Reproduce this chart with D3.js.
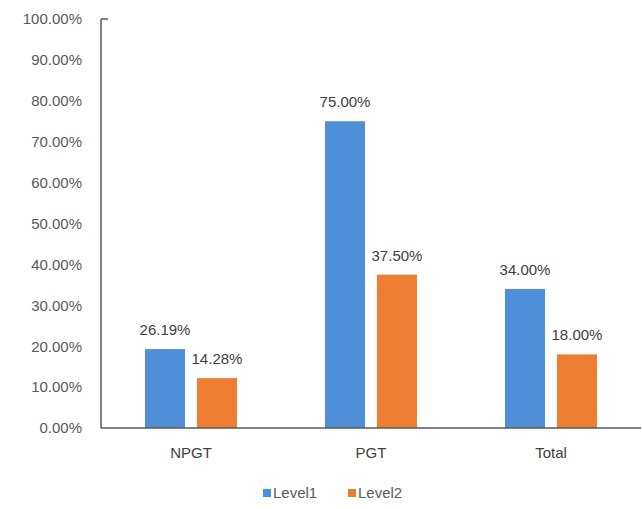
<!DOCTYPE html>
<html>
<head>
<meta charset="utf-8">
<script src="https://cdn.jsdelivr.net/npm/d3@7"></script>
<style>
  body { margin: 0; background: #fff; }
  text { font-family: "Liberation Sans", Arial, sans-serif; }
</style>
</head>
<body>
<svg id="chart" width="642" height="509"></svg>
<script>
// data
var categories = ['NPGT', 'PGT', 'Total'];
var seriesNames = ['Level1', 'Level2'];
var level1 = [0.193, 0.75, 0.34];   // bar heights as drawn
var level2 = [0.122, 0.375, 0.18];
var level1Labels = ['26.19%', '75.00%', '34.00%'];
var level2Labels = ['14.28%', '37.50%', '18.00%'];
var yTicks = [0, 0.1, 0.2, 0.3, 0.4, 0.5, 0.6, 0.7, 0.8, 0.9, 1.0];
var colors = ['#4f8fd8', '#ed7d31'];

var svg = d3.select('#chart');
var plotLeft = 101, plotRight = 641, plotTop = 19, plotBottom = 428;

var x0 = d3.scaleBand().domain(categories).range([plotLeft, plotRight])
  .paddingInner(0.489).paddingOuter(0.2445);
var x1 = d3.scaleBand().domain(seriesNames).range([0, x0.bandwidth()])
  .paddingInner(0.23);
var y = d3.scaleLinear().domain([0, 1]).range([plotBottom, plotTop]);

var flat = d3.merge(categories.map(function(c, i) {
  return [
    { cat: c, s: 'Level1', v: level1[i], label: level1Labels[i], color: colors[0] },
    { cat: c, s: 'Level2', v: level2[i], label: level2Labels[i], color: colors[1] }
  ];
}));

// y axis labels
var yAxis = d3.axisLeft(y).tickValues(yTicks).tickFormat(d3.format('.2%'))
  .tickSize(0).tickPadding(19);
var yg = svg.append('g').attr('transform', 'translate(' + plotLeft + ',0)').call(yAxis);
yg.select('.domain').remove();
yg.selectAll('text')
  .attr('fill', '#595959')
  .style('font-family', '"Liberation Sans", Arial, sans-serif')
  .style('font-size', '15px');

// bars
svg.selectAll('.bar').data(flat).enter().append('rect')
  .attr('class', 'bar')
  .attr('x', function(d) { return x0(d.cat) + x1(d.s); })
  .attr('y', function(d) { return y(d.v); })
  .attr('width', x1.bandwidth())
  .attr('height', function(d) { return y(0) - y(d.v); })
  .attr('fill', function(d) { return d.color; });

// value labels
svg.selectAll('.vlabel').data(flat).enter().append('text')
  .attr('class', 'vlabel')
  .attr('text-anchor', 'middle')
  .attr('x', function(d) { return x0(d.cat) + x1(d.s) + x1.bandwidth() / 2; })
  .attr('y', function(d) { return y(d.v) - 14; })
  .attr('fill', '#404040')
  .style('font-size', '15px')
  .text(function(d) { return d.label; });

// axis lines
svg.append('line')
  .attr('x1', plotLeft).attr('x2', plotLeft).attr('y1', plotTop).attr('y2', plotBottom)
  .attr('stroke', '#5a5a5a').attr('stroke-width', 1.5);
svg.append('line')
  .attr('x1', plotLeft).attr('x2', plotLeft + 7).attr('y1', plotTop).attr('y2', plotTop)
  .attr('stroke', '#5a5a5a').attr('stroke-width', 1.5);
svg.append('line')
  .attr('x1', plotLeft).attr('x2', plotRight).attr('y1', plotBottom).attr('y2', plotBottom)
  .attr('stroke', '#5a5a5a').attr('stroke-width', 1.5);

// category labels
svg.selectAll('.cat').data(categories).enter().append('text')
  .attr('class', 'cat')
  .attr('text-anchor', 'middle')
  .attr('x', function(d) { return x0(d) + x0.bandwidth() / 2; })
  .attr('y', 458)
  .attr('fill', '#404040')
  .style('font-size', '15px')
  .text(function(d) { return d; });

// legend
var legendX = [263, 348];
var lg = svg.selectAll('.legend').data(seriesNames).enter().append('g')
  .attr('class', 'legend')
  .attr('transform', function(d, i) { return 'translate(' + legendX[i] + ',493)'; });
lg.append('rect')
  .attr('x', 0).attr('y', -4).attr('width', 8).attr('height', 8)
  .attr('fill', function(d, i) { return colors[i]; });
lg.append('text')
  .attr('x', 10).attr('y', 5)
  .attr('fill', '#595959')
  .style('font-size', '15px')
  .text(function(d) { return d; });
</script>
</body>
</html>
